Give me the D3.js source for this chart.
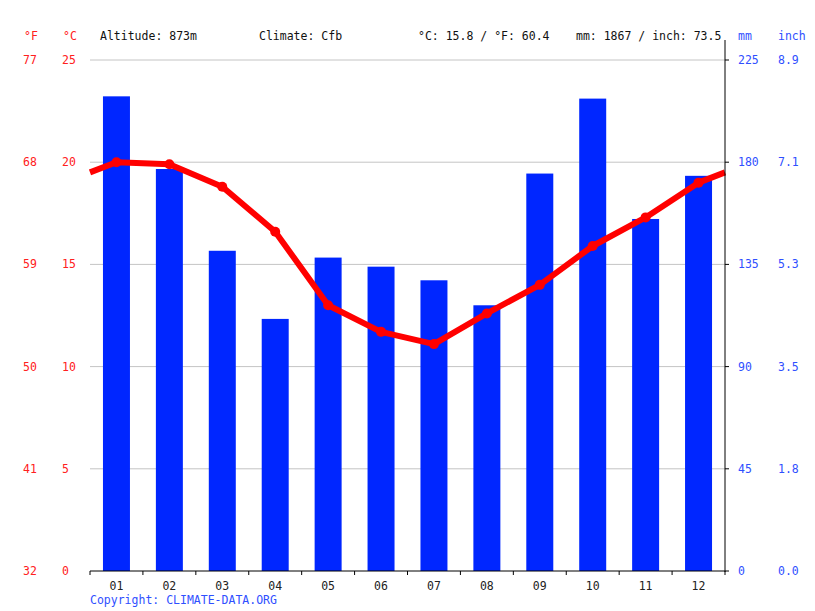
<!DOCTYPE html>
<html>
<head>
<meta charset="utf-8">
<script src="https://cdn.jsdelivr.net/npm/d3@7"></script>
<style>
  body { margin: 0; background: #fff; }
  svg text { font-family: "DejaVu Sans Mono", monospace; font-size: 11.5px; }
</style>
</head>
<body>
<svg id="chart"></svg>
<script>
// data
const months = ["01", "02", "03", "04", "05", "06", "07", "08", "09", "10", "11", "12"];
const precipMm = [209, 177, 141, 111, 138, 134, 128, 117, 175, 208, 155, 174];
const tempC = [20.0, 19.9, 18.8, 16.6, 13.0, 11.7, 11.1, 12.6, 14.0, 15.9, 17.3, 19.0];
const cTicks = [0, 5, 10, 15, 20, 25];
const fTicks = ["32", "41", "50", "59", "68", "77"];
const mmTicks = [0, 45, 90, 135, 180, 225];
const inchTicks = ["0.0", "1.8", "3.5", "5.3", "7.1", "8.9"];
const header = [
  { x: 100, t: "Altitude: 873m" },
  { x: 259, t: "Climate: Cfb" },
  { x: 418, t: "°C: 15.8 / °F: 60.4" },
  { x: 576, t: "mm: 1867 / inch: 73.5" }
];

const width = 815, height = 611;
const margin = { top: 60, right: 90, bottom: 40, left: 90 };
const x0 = margin.left, x1 = width - margin.right, yBottom = height - margin.bottom;

const svg = d3.select("#chart").attr("width", width).attr("height", height);

const x = d3.scaleBand().domain(months).range([x0, x1]).paddingInner(0).paddingOuter(0);
const yC = d3.scaleLinear().domain([0, 25]).range([yBottom, margin.top]);
const yMm = d3.scaleLinear().domain([0, 225]).range([yBottom, margin.top]);

// grid lines
svg.append("g").selectAll("line")
  .data(cTicks.slice(1))
  .join("line")
  .attr("x1", x0).attr("x2", x1)
  .attr("y1", d => yC(d)).attr("y2", d => yC(d))
  .attr("stroke", "#c4c4c4").attr("stroke-width", 1);

// bars
const barW = x.bandwidth() * 0.51;
svg.append("g").selectAll("rect")
  .data(precipMm)
  .join("rect")
  .attr("x", (d, i) => x(months[i]) + (x.bandwidth() - barW) / 2)
  .attr("y", d => yMm(d))
  .attr("width", barW)
  .attr("height", d => yBottom - yMm(d))
  .attr("fill", "#0026ff");

// temperature line, extended to the edges with the Dec/Jan midpoint
const edge = (tempC[0] + tempC[11]) / 2;
const pts = [[x0, edge]]
  .concat(tempC.map((t, i) => [x(months[i]) + x.bandwidth() / 2, t]))
  .concat([[x1, edge]]);
svg.append("path")
  .datum(pts)
  .attr("fill", "none")
  .attr("stroke", "#ff0000")
  .attr("stroke-width", 6)
  .attr("stroke-linejoin", "round")
  .attr("d", d3.line().x(d => d[0]).y(d => yC(d[1])));
svg.append("g").selectAll("circle")
  .data(tempC)
  .join("circle")
  .attr("cx", (d, i) => x(months[i]) + x.bandwidth() / 2)
  .attr("cy", d => yC(d))
  .attr("r", 5)
  .attr("fill", "#ff0000");

// bottom axis
const xAxis = svg.append("g").attr("transform", `translate(0,${yBottom})`);
xAxis.append("line").attr("x1", x0).attr("x2", x1).attr("stroke", "#000");
xAxis.selectAll("line.tk")
  .data(d3.range(13))
  .join("line").attr("class", "tk")
  .attr("x1", i => x0 + i * x.step()).attr("x2", i => x0 + i * x.step())
  .attr("y1", 0).attr("y2", 4).attr("stroke", "#000");
xAxis.selectAll("text")
  .data(months)
  .join("text")
  .attr("x", d => x(d) + x.bandwidth() / 2)
  .attr("y", 19)
  .attr("text-anchor", "middle")
  .attr("fill", "#222")
  .text(d => d);

// right axis
svg.append("line").attr("x1", x1).attr("x2", x1).attr("y1", 40).attr("y2", yBottom + 1).attr("stroke", "#000");
svg.append("g").selectAll("line")
  .data(mmTicks)
  .join("line")
  .attr("x1", x1).attr("x2", x1 + 4)
  .attr("y1", d => yMm(d)).attr("y2", d => yMm(d))
  .attr("stroke", "#000");

const blue = "#2f4fff", red = "#ff2020";
svg.append("g").selectAll("text")
  .data(mmTicks)
  .join("text")
  .attr("x", 738).attr("y", d => yMm(d) + 4)
  .attr("fill", blue).text(d => d);
svg.append("g").selectAll("text")
  .data(inchTicks)
  .join("text")
  .attr("x", 778).attr("y", (d, i) => yMm(mmTicks[i]) + 4)
  .attr("fill", blue).text(d => d);

// left labels
svg.append("g").selectAll("text")
  .data(cTicks)
  .join("text")
  .attr("x", 62).attr("y", d => yC(d) + 4)
  .attr("fill", red).text(d => d);
svg.append("g").selectAll("text")
  .data(fTicks)
  .join("text")
  .attr("x", 23).attr("y", (d, i) => yC(cTicks[i]) + 4)
  .attr("fill", red).text(d => d);

// unit labels
svg.append("text").attr("x", 24).attr("y", 40).attr("fill", red).text("°F");
svg.append("text").attr("x", 63).attr("y", 40).attr("fill", red).text("°C");
svg.append("text").attr("x", 738).attr("y", 40).attr("fill", blue).text("mm");
svg.append("text").attr("x", 778).attr("y", 40).attr("fill", blue).text("inch");

// header
svg.append("g").selectAll("text")
  .data(header)
  .join("text")
  .attr("x", d => d.x).attr("y", 40)
  .attr("fill", "#111").text(d => d.t);

svg.append("text").attr("x", 90).attr("y", 604).attr("fill", blue).text("Copyright: CLIMATE-DATA.ORG");
</script>
</body>
</html>
